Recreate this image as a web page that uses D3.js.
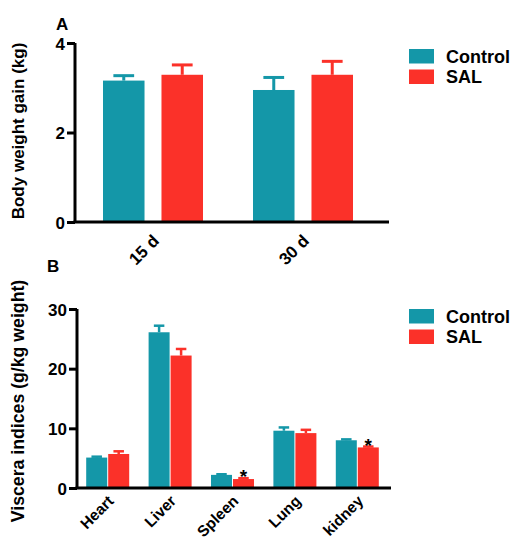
<!DOCTYPE html>
<html>
<head>
<meta charset="utf-8">
<script src="https://cdn.jsdelivr.net/npm/d3@7"></script>
<style>
  html, body { margin: 0; padding: 0; background: #fff; }
  svg text { font-family: "Liberation Sans", Arial, sans-serif; font-weight: bold; fill: #000; }
</style>
</head>
<body>
<svg id="chart" width="520" height="543"></svg>
<script>
// Series and colours
const seriesNames = ["Control", "SAL"];
const seriesColors = ["#1497a8", "#fb3129"];

// Panel A: body weight gain (kg), mean and upper error
const periods = ["15 d", "30 d"];
const gainControl = [3.16, 2.95];
const gainControlErr = [0.11, 0.28];
const gainSAL = [3.29, 3.29];
const gainSALErr = [0.22, 0.30];
const gainTicks = [0, 2, 4];

// Panel B: viscera indices (g/kg weight)
const organs = ["Heart", "Liver", "Spleen", "Lung", "kidney"];
const visceraControl = [5.1, 26.1, 2.2, 9.6, 8.0];
const visceraControlErr = [0.15, 1.1, 0.1, 0.55, 0.15];
const visceraSAL = [5.7, 22.2, 1.5, 9.2, 6.8];
const visceraSALErr = [0.45, 1.1, 0.15, 0.55, 0.15];
const visceraSignif = [false, false, true, false, true];
const visceraTicks = [0, 10, 20, 30];

const svg = d3.select("#chart");

function drawPanel(cfg) {
  const g = svg.append("g");
  const x = d3.scaleBand().domain(cfg.categories).range(cfg.xRange).paddingInner(0).paddingOuter(0);
  const inner = d3.scaleBand().domain(seriesNames)
    .range([(x.bandwidth() - cfg.pairWidth) / 2, (x.bandwidth() + cfg.pairWidth) / 2])
    .paddingInner(cfg.innerPad).paddingOuter(0);
  const y = d3.scaleLinear().domain(cfg.yDomain).range(cfg.yRange);

  const rows = [];
  cfg.categories.forEach((c, i) => {
    rows.push({ cat: c, s: "Control", v: cfg.control[i], e: cfg.controlErr[i], color: seriesColors[0], sig: false });
    rows.push({ cat: c, s: "SAL", v: cfg.sal[i], e: cfg.salErr[i], color: seriesColors[1], sig: cfg.signif ? cfg.signif[i] : false });
  });

  // error bars (upper only)
  const eb = g.append("g").selectAll("g").data(rows).join("g");
  eb.append("line")
    .attr("x1", d => x(d.cat) + inner(d.s) + inner.bandwidth() / 2)
    .attr("x2", d => x(d.cat) + inner(d.s) + inner.bandwidth() / 2)
    .attr("y1", d => y(d.v)).attr("y2", d => y(d.v + d.e))
    .attr("stroke", d => d.color).attr("stroke-width", cfg.errWidth);
  eb.append("line")
    .attr("x1", d => x(d.cat) + inner(d.s) + inner.bandwidth() * 0.25)
    .attr("x2", d => x(d.cat) + inner(d.s) + inner.bandwidth() * 0.75)
    .attr("y1", d => y(d.v + d.e)).attr("y2", d => y(d.v + d.e))
    .attr("stroke", d => d.color).attr("stroke-width", cfg.errWidth);

  // bars
  g.append("g").selectAll("rect").data(rows).join("rect")
    .attr("x", d => x(d.cat) + inner(d.s))
    .attr("width", inner.bandwidth())
    .attr("y", d => y(d.v))
    .attr("height", d => y(0) - y(d.v))
    .attr("fill", d => d.color);

  // significance marks
  g.append("g").selectAll("text").data(rows.filter(d => d.sig)).join("text")
    .attr("x", d => x(d.cat) + inner(d.s) + inner.bandwidth() / 2)
    .attr("y", d => y(d.v + d.e) + 5)
    .attr("text-anchor", "middle")
    .style("font-size", "19px")
    .text("*");

  // y axis
  const yAxis = g.append("g").attr("transform", `translate(${cfg.axisX},0)`)
    .call(d3.axisLeft(y).tickValues(cfg.ticks).tickFormat(d3.format("d"))
      .tickSize(8).tickPadding(2).tickSizeOuter(0));
  yAxis.select(".domain").attr("stroke", "#000").attr("stroke-width", 3)
    .attr("d", `M0,${y(0)}V${y(cfg.yDomain[1])}`);
  yAxis.selectAll(".tick line").attr("stroke", "#000").attr("stroke-width", 3);
  yAxis.selectAll(".tick text").style("font-size", "17px").attr("dy", "0.36em");

  // x axis line
  g.append("line")
    .attr("x1", cfg.axisX - 1.5).attr("x2", cfg.xEnd)
    .attr("y1", y(0)).attr("y2", y(0))
    .attr("stroke", "#000").attr("stroke-width", 3);

  // x labels, rotated
  g.append("g").selectAll("text").data(cfg.categories).join("text")
    .attr("transform", c => `translate(${x(c) + x.bandwidth() / 2 + 7},${y(0) + cfg.labelDrop}) rotate(-45)`)
    .attr("text-anchor", "end")
    .style("font-size", cfg.labelSize)
    .text(c => c);

  // y title
  g.append("text")
    .attr("transform", `translate(${cfg.titleX},${cfg.titleY}) rotate(-90)`)
    .attr("text-anchor", "middle")
    .style("font-size", cfg.titleSize)
    .text(cfg.title);

  // panel letter
  g.append("text").attr("x", cfg.letterX).attr("y", cfg.letterY)
    .style("font-size", "17px").text(cfg.letter);

  // legend
  const lg = g.append("g").attr("transform", `translate(409,${cfg.legendY})`);
  seriesNames.forEach((s, i) => {
    lg.append("rect").attr("x", 0).attr("y", i * 20.5).attr("width", 25).attr("height", 14.5)
      .attr("fill", seriesColors[i]);
    lg.append("text").attr("x", 37).attr("y", i * 20.5 + 7.5).attr("dy", "0.36em")
      .style("font-size", "18px").text(s);
  });
}

drawPanel({
  categories: periods, control: gainControl, controlErr: gainControlErr,
  sal: gainSAL, salErr: gainSALErr,
  xRange: [78, 378], pairWidth: 100, innerPad: 0.29,
  yDomain: [0, 4], yRange: [222, 43], ticks: gainTicks,
  axisX: 75, xEnd: 389, errWidth: 3,
  labelDrop: 20, labelSize: "17px",
  title: "Body weight gain (kg)", titleX: 24, titleY: 131, titleSize: "17px",
  letter: "A", letterX: 56, letterY: 30, legendY: 49
});

drawPanel({
  categories: organs, control: visceraControl, controlErr: visceraControlErr,
  sal: visceraSAL, salErr: visceraSALErr, signif: visceraSignif,
  xRange: [76.5, 388.5], pairWidth: 43, innerPad: 0.045,
  yDomain: [0, 30], yRange: [488, 309], ticks: visceraTicks,
  axisX: 77, xEnd: 391, errWidth: 2.5,
  labelDrop: 14, labelSize: "15.5px",
  title: "Viscera indices (g/kg weight)", titleX: 24, titleY: 401, titleSize: "17.7px",
  letter: "B", letterX: 47, letterY: 272, legendY: 309
});
</script>
</body>
</html>
